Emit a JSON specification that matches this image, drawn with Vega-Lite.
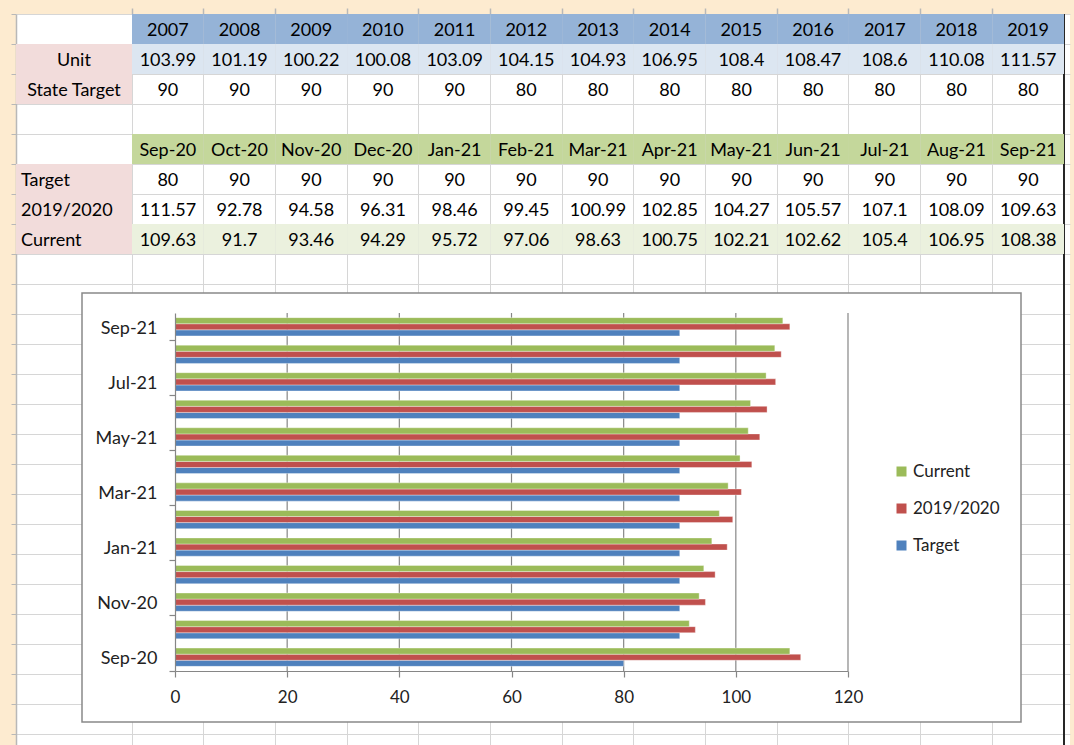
{
  "$schema": "https://vega.github.io/schema/vega-lite/v6.json",
  "width": 1054,
  "height": 731,
  "autosize": {"type": "none"},
  "padding": {"left": 16, "top": 14, "right": 4, "bottom": 0},
  "background": "#FDEBD0",
  "config": {
    "view": {"stroke": null, "fill": "#FFFFFF"},
    "font": "Lato",
    "text": {"font": "Lato", "fontSize": 18, "color": "#000000"}
  },
  "datasets": {
    "yearly": [
      {"year": "2007", "measure": "Unit", "value": 103.99}, {"year": "2007", "measure": "State Target", "value": 90},
      {"year": "2008", "measure": "Unit", "value": 101.19}, {"year": "2008", "measure": "State Target", "value": 90},
      {"year": "2009", "measure": "Unit", "value": 100.22}, {"year": "2009", "measure": "State Target", "value": 90},
      {"year": "2010", "measure": "Unit", "value": 100.08}, {"year": "2010", "measure": "State Target", "value": 90},
      {"year": "2011", "measure": "Unit", "value": 103.09}, {"year": "2011", "measure": "State Target", "value": 90},
      {"year": "2012", "measure": "Unit", "value": 104.15}, {"year": "2012", "measure": "State Target", "value": 80},
      {"year": "2013", "measure": "Unit", "value": 104.93}, {"year": "2013", "measure": "State Target", "value": 80},
      {"year": "2014", "measure": "Unit", "value": 106.95}, {"year": "2014", "measure": "State Target", "value": 80},
      {"year": "2015", "measure": "Unit", "value": 108.4}, {"year": "2015", "measure": "State Target", "value": 80},
      {"year": "2016", "measure": "Unit", "value": 108.47}, {"year": "2016", "measure": "State Target", "value": 80},
      {"year": "2017", "measure": "Unit", "value": 108.6}, {"year": "2017", "measure": "State Target", "value": 80},
      {"year": "2018", "measure": "Unit", "value": 110.08}, {"year": "2018", "measure": "State Target", "value": 80},
      {"year": "2019", "measure": "Unit", "value": 111.57}, {"year": "2019", "measure": "State Target", "value": 80}
    ],
    "monthly": [
      {"month": "Sep-20", "series": "Target", "value": 80}, {"month": "Sep-20", "series": "2019/2020", "value": 111.57}, {"month": "Sep-20", "series": "Current", "value": 109.63},
      {"month": "Oct-20", "series": "Target", "value": 90}, {"month": "Oct-20", "series": "2019/2020", "value": 92.78}, {"month": "Oct-20", "series": "Current", "value": 91.7},
      {"month": "Nov-20", "series": "Target", "value": 90}, {"month": "Nov-20", "series": "2019/2020", "value": 94.58}, {"month": "Nov-20", "series": "Current", "value": 93.46},
      {"month": "Dec-20", "series": "Target", "value": 90}, {"month": "Dec-20", "series": "2019/2020", "value": 96.31}, {"month": "Dec-20", "series": "Current", "value": 94.29},
      {"month": "Jan-21", "series": "Target", "value": 90}, {"month": "Jan-21", "series": "2019/2020", "value": 98.46}, {"month": "Jan-21", "series": "Current", "value": 95.72},
      {"month": "Feb-21", "series": "Target", "value": 90}, {"month": "Feb-21", "series": "2019/2020", "value": 99.45}, {"month": "Feb-21", "series": "Current", "value": 97.06},
      {"month": "Mar-21", "series": "Target", "value": 90}, {"month": "Mar-21", "series": "2019/2020", "value": 100.99}, {"month": "Mar-21", "series": "Current", "value": 98.63},
      {"month": "Apr-21", "series": "Target", "value": 90}, {"month": "Apr-21", "series": "2019/2020", "value": 102.85}, {"month": "Apr-21", "series": "Current", "value": 100.75},
      {"month": "May-21", "series": "Target", "value": 90}, {"month": "May-21", "series": "2019/2020", "value": 104.27}, {"month": "May-21", "series": "Current", "value": 102.21},
      {"month": "Jun-21", "series": "Target", "value": 90}, {"month": "Jun-21", "series": "2019/2020", "value": 105.57}, {"month": "Jun-21", "series": "Current", "value": 102.62},
      {"month": "Jul-21", "series": "Target", "value": 90}, {"month": "Jul-21", "series": "2019/2020", "value": 107.1}, {"month": "Jul-21", "series": "Current", "value": 105.4},
      {"month": "Aug-21", "series": "Target", "value": 90}, {"month": "Aug-21", "series": "2019/2020", "value": 108.09}, {"month": "Aug-21", "series": "Current", "value": 106.95},
      {"month": "Sep-21", "series": "Target", "value": 90}, {"month": "Sep-21", "series": "2019/2020", "value": 109.63}, {"month": "Sep-21", "series": "Current", "value": 108.38}
    ]
  },
  "layer": [
    {
      "data": {"values": [{"sheet": "grid"}]},
      "mark": {"type": "rect", "opacity": 0},
      "encoding": {
        "x": {"datum": "sheet", "type": "nominal", "scale": {"type": "band", "domain": ["sheet"], "range": [0, 1054], "paddingInner": 0, "paddingOuter": 0}, "axis": null},
        "y": {"datum": 1, "type": "ordinal",
          "scale": {"type": "band", "domain": [1,2,3,4,5,6,7,8,9,10,11,12,13,14,15,16,17,18,19,20,21,22,23,24,25], "range": [0, 750], "paddingInner": 0, "paddingOuter": 0},
          "axis": {"orient": "left", "grid": true, "gridColor": "#D6D6D6", "gridWidth": 1, "bandPosition": 0, "labels": false, "ticks": true, "tickSize": 5, "tickColor": "#B8B8B8", "tickWidth": 1, "domain": true, "domainColor": "#B8B8B8", "domainWidth": 1.5, "title": null, "zindex": 0}}
      }
    },
    {
      "data": {"values": [{"sheet": "grid"}]},
      "mark": {"type": "rule", "color": "#262626", "strokeWidth": 2},
      "encoding": {
        "x": {"datum": "Sep-21", "type": "nominal", "bandPosition": 1,
          "scale": {"type": "band", "domain": ["Sep-20","Oct-20","Nov-20","Dec-20","Jan-21","Feb-21","Mar-21","Apr-21","May-21","Jun-21","Jul-21","Aug-21","Sep-21"], "range": [116, 1048], "paddingInner": 0, "paddingOuter": 0},
          "axis": {"orient": "top", "grid": true, "gridColor": "#D6D6D6", "gridWidth": 1, "bandPosition": 0, "labels": false, "ticks": true, "tickSize": 6, "tickColor": "#B8B8B8", "tickWidth": 1.5, "domain": false, "title": null, "zindex": 0}}
      }
    },
    {
      "data": {"name": "yearly"},
      "encoding": {
        "x": {"field": "year", "type": "nominal", "scale": {"type": "band", "domain": ["2007","2008","2009","2010","2011","2012","2013","2014","2015","2016","2017","2018","2019"], "range": [116, 1048], "paddingInner": 0, "paddingOuter": 0}, "axis": null},
        "y": {"field": "measure", "type": "nominal", "scale": {"type": "band", "domain": ["Year", "Unit", "State Target"], "range": [0, 90], "paddingInner": 0, "paddingOuter": 0}, "axis": null}
      },
      "layer": [
        {"transform": [{"filter": "datum.measure == 'Unit'"}], "mark": {"type": "rect", "fill": "#95B3D7"}, "encoding": {"y": {"datum": "Year", "type": "nominal"}}},
        {"transform": [{"filter": "datum.measure == 'Unit'"}], "mark": {"type": "rect", "fill": "#DCE6F1"}},
        {"transform": [{"filter": "datum.measure == 'Unit'"}], "mark": {"type": "text", "dy": 2}, "encoding": {"y": {"datum": "Year", "type": "nominal"}, "text": {"field": "year", "type": "nominal"}}},
        {"mark": {"type": "text", "dy": 2}, "encoding": {"text": {"field": "value", "type": "quantitative"}}}
      ]
    },
    {
      "data": {"name": "monthly"},
      "encoding": {
        "x": {"field": "month", "type": "nominal", "scale": {"type": "band", "domain": ["Sep-20","Oct-20","Nov-20","Dec-20","Jan-21","Feb-21","Mar-21","Apr-21","May-21","Jun-21","Jul-21","Aug-21","Sep-21"], "range": [116, 1048], "paddingInner": 0, "paddingOuter": 0}, "axis": null},
        "y": {"field": "series", "type": "nominal", "scale": {"type": "band", "domain": ["Month", "Target", "2019/2020", "Current"], "range": [120, 240], "paddingInner": 0, "paddingOuter": 0}, "axis": null}
      },
      "layer": [
        {"transform": [{"filter": "datum.series == 'Target'"}], "mark": {"type": "rect", "fill": "#C4D79B"}, "encoding": {"y": {"datum": "Month", "type": "nominal"}}},
        {"transform": [{"filter": "datum.series == 'Current'"}], "mark": {"type": "rect", "fill": "#EBF1DE"}},
        {"transform": [{"filter": "datum.series == 'Target'"}], "mark": {"type": "text", "dy": 2}, "encoding": {"y": {"datum": "Month", "type": "nominal"}, "text": {"field": "month", "type": "nominal"}}},
        {"mark": {"type": "text", "dy": 2}, "encoding": {"text": {"field": "value", "type": "quantitative"}}}
      ]
    },
    {
      "data": {"name": "yearly"},
      "transform": [{"filter": "datum.year == '2007'"}],
      "encoding": {
        "x": {"datum": "A", "type": "nominal", "scale": {"type": "band", "domain": ["A"], "range": [0, 116], "paddingInner": 0, "paddingOuter": 0}, "axis": null},
        "y": {"field": "measure", "type": "nominal", "scale": {"type": "band", "domain": ["Year", "Unit", "State Target"], "range": [0, 90], "paddingInner": 0, "paddingOuter": 0}, "axis": null}
      },
      "layer": [
        {"mark": {"type": "rect", "fill": "#F2DCDB"}},
        {"mark": {"type": "text", "dy": 2}, "encoding": {"text": {"field": "measure", "type": "nominal"}}}
      ]
    },
    {
      "data": {"name": "monthly"},
      "transform": [{"filter": "datum.month == 'Sep-20'"}],
      "encoding": {
        "y": {"field": "series", "type": "nominal", "scale": {"type": "band", "domain": ["Month", "Target", "2019/2020", "Current"], "range": [120, 240], "paddingInner": 0, "paddingOuter": 0}, "axis": null}
      },
      "layer": [
        {"mark": {"type": "rect", "fill": "#F2DCDB"},
         "encoding": {"x": {"datum": "A", "type": "nominal", "scale": {"type": "band", "domain": ["A"], "range": [0, 116], "paddingInner": 0, "paddingOuter": 0}, "axis": null}}},
        {"mark": {"type": "text", "dy": 2, "align": "left", "dx": 5},
         "encoding": {"x": {"datum": "A", "type": "nominal", "bandPosition": 0, "scale": {"type": "band", "domain": ["A"], "range": [0, 116], "paddingInner": 0, "paddingOuter": 0}, "axis": null},
                      "text": {"field": "series", "type": "nominal"}}}
      ]
    },
    {
      "data": {"values": [{"sheet": "chart"}]},
      "mark": {"type": "rect", "fill": "#FFFFFF", "stroke": "#898989", "strokeWidth": 1.5},
      "encoding": {
        "x": {"datum": "frame", "type": "nominal", "scale": {"type": "band", "domain": ["frame"], "range": [66, 1005], "paddingInner": 0, "paddingOuter": 0}, "axis": null},
        "y": {"datum": "frame", "type": "nominal", "scale": {"type": "band", "domain": ["frame"], "range": [279, 708], "paddingInner": 0, "paddingOuter": 0}, "axis": null}
      }
    },
    {
      "data": {"values": [{"gridValue": 20}, {"gridValue": 40}, {"gridValue": 60}, {"gridValue": 80}, {"gridValue": 100}, {"gridValue": 120}]},
      "mark": {"type": "rule", "color": "#868686", "strokeWidth": 1.2},
      "encoding": {
        "x": {"field": "gridValue", "type": "quantitative", "scale": {"domain": [0, 120], "range": [159, 832], "nice": false, "zero": true}, "axis": null},
        "y": {"datum": 0, "type": "quantitative", "scale": {"domain": [0, 1], "range": [299, 657], "nice": false, "zero": false}, "axis": null},
        "y2": {"datum": 1}
      }
    },
    {
      "data": {"name": "monthly"},
      "mark": {"type": "bar", "stroke": "#FFFFFF", "strokeWidth": 0.6, "strokeOpacity": 0.6},
      "encoding": {
        "x": {"field": "value", "type": "quantitative",
          "scale": {"domain": [0, 120], "range": [159, 832], "nice": false, "zero": true},
          "axis": {"orient": "bottom", "offset": -74, "values": [0, 20, 40, 60, 80, 100, 120], "grid": false, "domain": true, "domainColor": "#868686", "domainWidth": 1.2, "ticks": true, "tickSize": 6, "tickColor": "#868686", "tickWidth": 1.2, "labelFont": "Lato", "labelFontSize": 17, "labelColor": "#222222", "labelPadding": 12, "labelFlush": false, "labelOverlap": false, "title": null, "zindex": 1}},
        "y": {"field": "month", "type": "nominal",
          "scale": {"type": "band", "domain": ["Sep-21","Aug-21","Jul-21","Jun-21","May-21","Apr-21","Mar-21","Feb-21","Jan-21","Dec-20","Nov-20","Oct-20","Sep-20"], "range": [299, 657], "paddingInner": 0, "paddingOuter": 0},
          "axis": {"orient": "left", "offset": -159, "values": ["Sep-21","Jul-21","May-21","Mar-21","Jan-21","Nov-20","Sep-20"], "bandPosition": 1, "grid": false, "domain": true, "domainColor": "#868686", "domainWidth": 1.2, "ticks": true, "tickSize": 6, "tickColor": "#868686", "tickWidth": 1.2, "labelFont": "Lato", "labelFontSize": 18, "labelColor": "#222222", "labelPadding": 12, "labelOffset": 2, "title": null, "zindex": 1}},
        "yOffset": {"field": "series", "type": "nominal", "scale": {"type": "band", "domain": ["Current", "2019/2020", "Target"], "paddingInner": 0, "paddingOuter": 0.76}},
        "color": {"field": "series", "type": "nominal",
          "scale": {"domain": ["Current", "2019/2020", "Target"], "range": ["#9BBB59", "#C0504D", "#4F81BD"]},
          "legend": {"orient": "none", "legendX": 877, "legendY": 449, "direction": "vertical", "title": null, "symbolType": "square", "symbolSize": 100, "symbolStrokeWidth": 0, "labelFont": "Lato", "labelFontSize": 17, "labelColor": "#222222", "labelOffset": 3, "rowPadding": 19}}
      }
    }
  ],
  "resolve": {
    "scale": {"x": "independent", "y": "independent", "color": "independent"},
    "axis": {"x": "independent", "y": "independent"}
  }
}
